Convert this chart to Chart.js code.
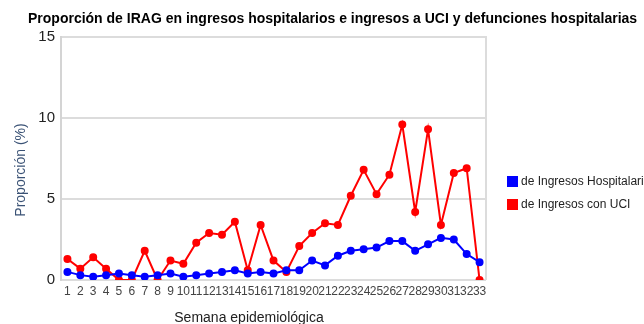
<!DOCTYPE html>
<html>
<head>
<meta charset="utf-8">
<script src="https://cdn.jsdelivr.net/npm/chart.js@4"></script>
<style>
  html, body { margin: 0; padding: 0; background: #fff; }
  #wrap { width: 644px; height: 324px; overflow: hidden; }
</style>
</head>
<body>
<div id="wrap"><canvas id="iragChart" width="644" height="324"></canvas></div>
<script>
// semanas epidemiológicas 1..33
const semanas = ['1','2','3','4','5','6','7','8','9','10','11','12','13','14','15','16','17','18','19','20','21','22','23','24','25','26','27','28','29','30','31','32','33'];

// % de IRAG en ingresos hospitalarios
const ingresosHosp = [0.5, 0.3, 0.2, 0.3, 0.4, 0.3, 0.2, 0.3, 0.4, 0.2, 0.3, 0.4, 0.5, 0.6, 0.4, 0.5, 0.4, 0.6, 0.6, 1.2, 0.9, 1.5, 1.8, 1.9, 2.0, 2.4, 2.4, 1.8, 2.2, 2.6, 2.5, 1.6, 1.1];

// % de IRAG en ingresos con UCI
const ingresosUCI = [1.3, 0.7, 1.4, 0.7, 0.0, 0.0, 1.8, 0.0, 1.2, 1.0, 2.3, 2.9, 2.8, 3.6, 0.6, 3.4, 1.2, 0.5, 2.1, 2.9, 3.5, 3.4, 5.2, 6.8, 5.3, 6.5, 9.6, 4.2, 9.3, 3.4, 6.6, 6.9, 0.0];

const yTicks = [0, 5, 10, 15];

const tituloGrafico = 'Proporción de IRAG en ingresos hospitalarios e ingresos a UCI y defunciones hospitalarias';
const tituloEjeY = 'Proporción (%)';
const tituloEjeX = 'Semana epidemiológica';
const nombresSeries = ['de Ingresos Hospitalarios', 'de Ingresos con UCI'];
const coloresSeries = ['#0000ff', '#ff0000'];

const FONT = '"Liberation Sans", Arial, sans-serif';

// titles, frame and legend drawn by hand
const decoraciones = {
    id: 'decoraciones',
    afterDraw(chart) {
        const ctx = chart.ctx;
        const area = chart.chartArea;
        ctx.save();

        // right frame line
        ctx.strokeStyle = '#dcdcdc';
        ctx.lineWidth = 2;
        ctx.beginPath();
        ctx.moveTo(area.right, area.top - 1);
        ctx.lineTo(area.right, area.bottom);
        ctx.stroke();

        // chart title
        ctx.fillStyle = '#000';
        ctx.font = 'bold 14px ' + FONT;
        ctx.textAlign = 'left';
        ctx.textBaseline = 'middle';
        ctx.fillText(tituloGrafico, 28, 19);

        // y axis title
        ctx.save();
        ctx.translate(21, 170);
        ctx.rotate(-Math.PI / 2);
        ctx.fillStyle = '#3a5275';
        ctx.font = '14px ' + FONT;
        ctx.textAlign = 'center';
        ctx.fillText(tituloEjeY, 0, 0);
        ctx.restore();

        // x axis title
        ctx.fillStyle = '#222';
        ctx.font = '14px ' + FONT;
        ctx.textAlign = 'center';
        ctx.fillText(tituloEjeX, 249, 318);

        // legend
        ctx.font = '12px ' + FONT;
        ctx.textAlign = 'left';
        nombresSeries.forEach((nombre, i) => {
            const y = 181 + i * 23;
            ctx.fillStyle = coloresSeries[i];
            ctx.fillRect(507, y - 5, 11, 11);
            ctx.fillStyle = '#222';
            ctx.fillText(nombre, 521, y + 1);
        });

        ctx.restore();
    }
};

const ctx = document.getElementById('iragChart').getContext('2d');

new Chart(ctx, {
    type: 'line',
    data: {
        labels: semanas,
        datasets: [{
            label: nombresSeries[0],
            data: ingresosHosp,
            borderColor: coloresSeries[0],
            backgroundColor: coloresSeries[0],
            borderWidth: 2,
            pointRadius: 3,
            pointHoverRadius: 3,
            tension: 0
        }, {
            label: nombresSeries[1],
            data: ingresosUCI,
            borderColor: coloresSeries[1],
            backgroundColor: coloresSeries[1],
            borderWidth: 2,
            pointRadius: 3,
            pointHoverRadius: 3,
            tension: 0
        }]
    },
    options: {
        responsive: false,
        animation: false,
        events: [],
        layout: {
            padding: { left: 0, top: 37, right: 158, bottom: 0 }
        },
        plugins: {
            legend: { display: false },
            title: { display: false },
            tooltip: { enabled: false }
        },
        scales: {
            x: {
                offset: true,
                grid: { display: false },
                border: { display: false },
                ticks: {
                    autoSkip: false,
                    maxRotation: 0,
                    minRotation: 0,
                    padding: -4,
                    color: '#444',
                    font: { family: FONT, size: 12 }
                },
                afterFit(scale) { scale.height = 44; }
            },
            y: {
                min: 0,
                max: 15,
                afterBuildTicks(scale) {
                    scale.ticks = yTicks.map(v => ({ value: v }));
                },
                grid: {
                    color: '#dcdcdc',
                    lineWidth: 2,
                    drawTicks: false
                },
                border: { display: true, color: '#d4d4d4', width: 2 },
                ticks: {
                    padding: 6,
                    color: '#222',
                    font: { family: FONT, size: 15 }
                },
                afterFit(scale) { scale.width = 61; }
            }
        }
    },
    plugins: [decoraciones]
});
</script>
</body>
</html>
